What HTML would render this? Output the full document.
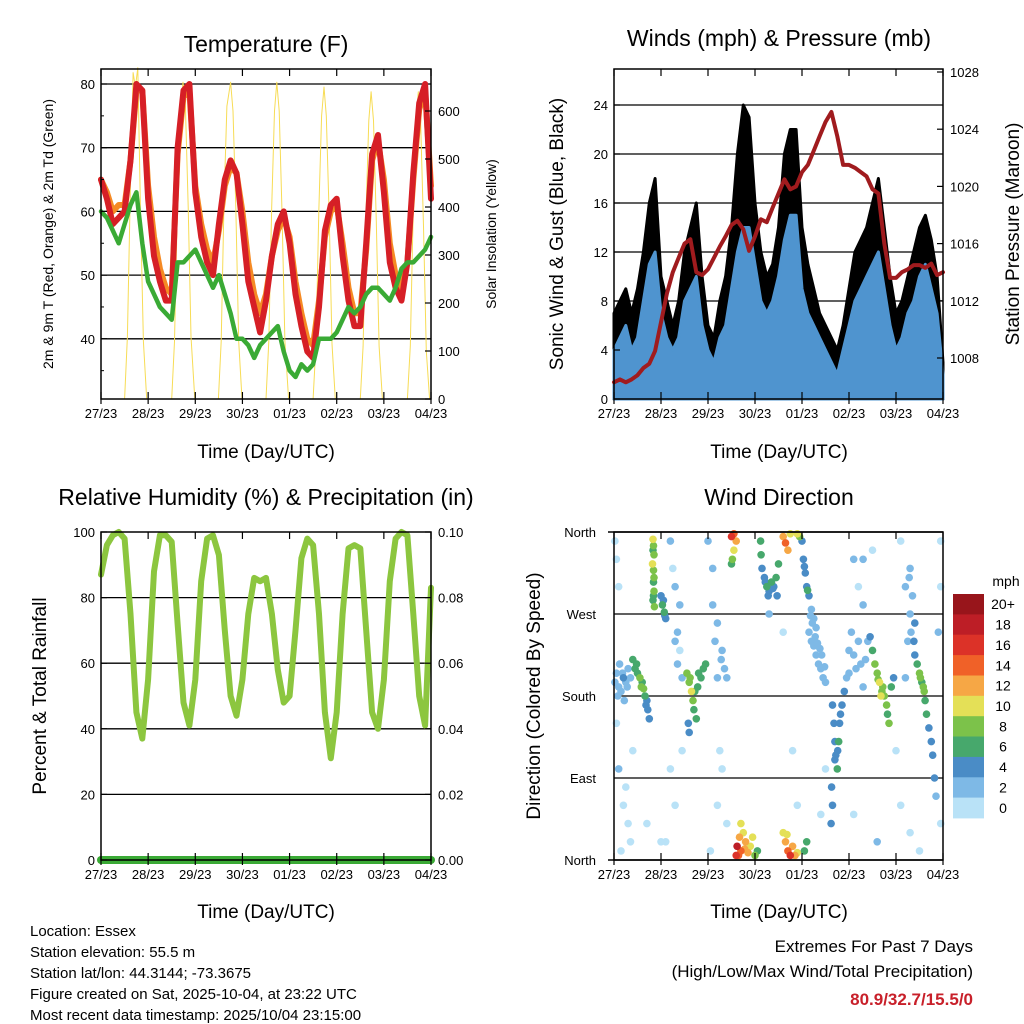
<!DOCTYPE html>
<html><head><meta charset="utf-8">
<style>
html,body{margin:0;padding:0;background:#fff;}
svg{display:block;font-family:"Liberation Sans",Arial,sans-serif;}
</style></head>
<body>
<svg id="chart" width="1024" height="1024" viewBox="0 0 1024 1024">
<rect x="0" y="0" width="1024" height="1024" fill="#fff"/>
<g id="layer"></g>
<text x="266" y="52" font-size="23" text-anchor="middle">Temperature (F)</text>
<text x="779" y="46" font-size="23" text-anchor="middle">Winds (mph) &amp; Pressure (mb)</text>
<text x="266" y="505" font-size="23" text-anchor="middle">Relative Humidity (%) &amp; Precipitation (in)</text>
<text x="779" y="505" font-size="23" text-anchor="middle">Wind Direction</text>
<text x="266" y="458" font-size="19" text-anchor="middle">Time (Day/UTC)</text>
<text x="779" y="458" font-size="19" text-anchor="middle">Time (Day/UTC)</text>
<text x="266" y="918" font-size="19" text-anchor="middle">Time (Day/UTC)</text>
<text x="779" y="918" font-size="19" text-anchor="middle">Time (Day/UTC)</text>
<text transform="translate(53,234) rotate(-90)" font-size="14" text-anchor="middle">2m &amp; 9m T (Red, Orange) &amp; 2m Td (Green)</text>
<text transform="translate(496,234) rotate(-90)" font-size="14" text-anchor="middle">Solar Insolation (Yellow)</text>
<text transform="translate(563,234) rotate(-90)" font-size="19" text-anchor="middle">Sonic Wind &amp; Gust (Blue, Black)</text>
<text transform="translate(1019,234) rotate(-90)" font-size="19" text-anchor="middle">Station Pressure (Maroon)</text>
<text transform="translate(46,696) rotate(-90)" font-size="19" text-anchor="middle">Percent &amp; Total Rainfall</text>
<text transform="translate(540,696) rotate(-90)" font-size="19" text-anchor="middle">Direction (Colored By Speed)</text>
<g font-size="15">
<text x="30" y="936">Location: Essex</text>
<text x="30" y="957">Station elevation: 55.5 m</text>
<text x="30" y="978">Station lat/lon: 44.3144; -73.3675</text>
<text x="30" y="999">Figure created on Sat, 2025-10-04, at 23:22 UTC</text>
<text x="30" y="1020">Most recent data timestamp: 2025/10/04 23:15:00</text>
</g>
<g font-size="17" text-anchor="end">
<text x="973" y="952">Extremes For Past 7 Days</text>
<text x="973" y="977">(High/Low/Max Wind/Total Precipitation)</text>
<text x="973" y="1005" fill="#c8202a" font-weight="bold">80.9/32.7/15.5/0</text>
</g>
</svg>
<script>
// ---- data (3-hour steps from 27/23 UTC, 57 values) ----
const dayLabels = ['27/23','28/23','29/23','30/23','01/23','02/23','03/23','04/23'];
const temp2m = [65,62,58,59,60,68,80,79, 62,53,49,46,46,70,79,80, 63,56,52,50,58,65,68,66, 58,49,45,41,46,53,58,60, 55,47,42,38,37,45,57,61, 62,53,46,42,42,55,69,72, 63,52,48,46,52,66,77,80, 62];
const temp9m = [65,63,60,61,61,68,79,79, 64,56,51,48,47,69,78,79, 64,58,54,52,57,64,67,66, 60,52,47,44,47,53,57,59, 56,49,44,40,39,46,56,60, 61,55,48,44,44,54,68,71, 65,55,50,48,52,65,76,79, 64];
const dewpoint = [60,59,57,55,58,61,63,55, 49,47,45,44,43,52,52,53, 54,52,50,48,50,47,44,40, 40,39,37,39,40,41,42,38, 35,34,36,35,36,40,40,40, 41,43,45,44,45,47,48,48, 47,46,48,51,52,52,53,54, 56];
const solarT = [0.5,0.56,0.62,0.68,0.73,0.78,0.84,0.9,0.97, 1.5,1.56,1.62,1.68,1.74,1.79,1.85,1.91,1.99, 2.49,2.55,2.61,2.67,2.75,2.8,2.86,2.92,2.99, 3.5,3.56,3.62,3.68,3.73,3.78,3.84,3.9,3.98, 4.5,4.56,4.62,4.68,4.73,4.78,4.84,4.9,4.97, 5.5,5.56,5.62,5.68,5.73,5.78,5.84,5.9,5.97, 6.5,6.56,6.62,6.68,6.73,6.78,6.84,6.9,6.97];
const solarV = [0,130,420,680,650,690,380,120,0, 0,120,400,600,660,610,400,130,0, 0,120,410,610,660,600,400,120,0, 0,120,400,600,660,600,390,120,0, 0,115,390,590,650,590,380,115,0, 0,110,380,580,640,580,370,110,0, 0,110,380,580,640,580,360,100,0];
const pressure = [1006.3,1006.5,1006.3,1006.5,1006.8,1007.3,1007.6,1008.5, 1010.5,1012.5,1014,1015,1016,1016.3,1014,1013.8, 1014.2,1015,1015.8,1016.5,1017.3,1017.6,1017,1015.5, 1016.5,1017.7,1017.5,1018.5,1019.5,1020.5,1019.8,1020, 1021,1021.5,1022.5,1023.5,1024.5,1025.2,1023.5,1021.5, 1021.5,1021.3,1021,1020.7,1019.8,1019.5,1016,1013.6, 1013.6,1014,1014.2,1014.5,1014.5,1014.3,1014.6,1013.8, 1014];
const windGust = [7,8,9,7,9,12,16,18, 10,8,6,8,12,14,16,10, 6,5,8,10,14,20,24,23, 16,12,10,11,14,20,22,22, 14,11,9,7,6,5,4,6, 9,12,13,14,16,18,14,10, 7,8,10,12,14,15,13,10, 3];
const windSpeed = [4,5,6,4,5,8,11,12, 7,5,4,5,8,9,10,6, 4,3,5,6,9,12,14,14, 11,8,7,8,10,13,15,15, 9,7,6,5,4,3,2,4, 6,8,9,10,11,12,9,6, 4,5,7,8,10,11,9,7, 2];
const relHum = [87,96,99,100,98,75,45,37, 55,88,99,99,97,72,48,41, 55,85,98,99,93,70,50,44, 55,75,86,85,86,75,58,48, 50,70,92,98,96,75,45,31, 45,75,95,96,95,70,45,40, 55,85,98,100,99,75,50,41, 83];
const precip = [0,0,0,0,0,0,0,0, 0,0,0,0,0,0,0,0, 0,0,0,0,0,0,0,0, 0,0,0,0,0,0,0,0, 0,0,0,0,0,0,0,0, 0,0,0,0,0,0,0,0, 0,0,0,0,0,0,0,0, 0];
const tempTicks = [40,50,60,70,80];
const solarTicks = [0,100,200,300,400,500,600];
const windTicks = [0,4,8,12,16,20,24];
const pressTicks = [1008,1012,1016,1020,1024,1028];
const rhTicks = [0,20,40,60,80,100];
const rainTicks = ['0.00','0.02','0.04','0.06','0.08','0.10'];
const dirTicks = [0,90,180,270,360];
const dirTickLabels = ['North','East','South','West','North'];
const speedBinLabels = ['20+','18','16','14','12','10','8','6','4','2','0'];
const speedBinColors = ['#98151b','#bd1e26','#dc3228','#f06128','#f6a745','#e4e057','#7cc24a','#47a86c','#4a8cc6','#7eb9e6','#b9e2f7'];
// wind direction observations: [day, degrees, mph]
const dirObs = [
[0.83,352,10],[0.84,345,9],[0.85,335,8],[0.82,325,10],[0.84,318,8],[0.84,305,7],[0.85,295,8],[0.83,285,6],[0.86,278,8],[0.83,340,7],[0.85,310,9],[0.84,290,7],
[1.0,290,5],[1.03,280,6],[1.07,272,6],[1.1,265,5],[1.05,285,4],[1.08,268,5],
[0.4,220,6],[0.45,210,6],[0.5,205,7],[0.55,200,8],[0.6,195,7],[0.63,188,8],[0.66,180,6],[0.7,175,5],[0.72,165,4],[0.75,155,4],[0.48,215,7],[0.58,190,8],[0.68,170,5],
[0.2,200,4],[0.25,195,3],[0.1,190,3],[0.05,205,2],[0.15,185,2],[0.3,210,3],[0.12,215,2],[0.02,195,3],[0.08,180,2],[0.18,205,3],[0.28,190,2],[0.22,175,2],[0.35,200,3],
[1.55,205,8],[1.6,195,9],[1.65,185,10],[1.68,175,8],[1.7,165,6],[1.75,155,7],[1.78,190,6],[1.85,200,6],[1.9,210,6],[1.95,215,6],[1.58,150,5],[1.6,140,4],[1.62,200,8],[1.72,185,7],[1.8,205,6],
[2.5,355,16],[2.55,358,14],[2.6,350,12],[2.55,340,10],[2.52,330,8],[2.5,325,6],
[2.6,5,16],[2.62,15,18],[2.67,25,12],[2.7,10,14],[2.75,30,10],[2.8,20,12],[2.85,8,12],[2.9,15,10],[3.0,5,8],[3.05,10,6],[2.7,40,10],[2.65,5,14],[2.78,12,13],[2.95,25,11],
[3.12,350,6],[3.13,335,6],[3.15,320,5],[3.2,310,5],[3.25,300,6],[3.3,295,5],[3.35,305,6],[3.4,300,4],[3.45,310,6],[3.5,325,6],[3.47,290,4],[3.22,305,4],[3.28,290,4],[3.38,298,4],
[3.6,355,12],[3.65,348,14],[3.7,340,12],[3.75,358,10],[3.9,358,10],[3.95,355,8],
[3.6,30,10],[3.65,20,12],[3.7,10,14],[3.75,5,16],[3.8,15,12],[3.9,8,10],[4.05,10,6],[4.1,20,6],[3.68,28,10],[3.85,5,12],
[4.0,350,4],[4.03,330,4],[4.07,315,5],[4.1,300,4],[4.15,290,4],[4.2,275,3],[4.25,265,3],[4.05,322,4],[4.12,296,6],
[4.15,250,2],[4.2,240,3],[4.25,235,3],[4.3,225,2],[4.35,215,2],[4.4,210,3],[4.45,200,2],[4.5,195,3],[4.22,260,2],[4.38,232,3],[4.28,245,3],[4.33,238,3],[4.42,225,3],[4.48,212,2],[4.3,255,3],[4.18,268,3],
[4.65,170,4],[4.68,150,4],[4.7,130,5],[4.72,115,4],[4.75,100,6],[4.78,130,6],[4.8,150,5],[4.85,170,4],[4.9,185,4],[4.63,80,4],[4.65,60,4],[4.62,40,4],[4.7,110,4],[4.76,120,5],[4.82,160,4],
[4.95,200,2],[5.0,230,3],[5.05,250,2],[5.15,210,3],[5.2,240,2],[5.3,190,2],[5.35,220,3],[5.1,225,2],[5.25,215,3],[5.4,240,3],[5.0,205,2],
[5.45,245,4],[5.5,230,6],[5.55,215,8],[5.6,205,8],[5.65,195,10],[5.7,185,9],[5.75,180,8],[5.8,170,8],[5.82,160,7],[5.85,150,8],[5.9,190,6],[5.95,200,4],[5.62,198,9],[5.72,190,8],[5.68,180,10],
[6.4,225,4],[6.45,215,6],[6.5,205,8],[6.55,195,7],[6.6,185,8],[6.62,175,6],[6.65,160,6],[6.7,145,4],[6.75,130,4],[6.78,115,4],[6.82,90,4],[6.85,70,3],[6.52,200,8],[6.58,190,8],
[0.02,350,1],[0.05,330,1],[0.1,300,1],[0.05,150,1],[0.1,100,2],[0.2,60,1],[0.3,40,1],[0.35,20,1],[0.15,10,1],[0.25,80,1],[0.4,120,1],
[1.2,350,2],[1.25,320,1],[1.3,300,3],[1.35,250,2],[1.4,230,1],[1.45,200,2],[1.2,100,1],[1.3,60,1],[1.1,20,1],[1.45,120,1],
[2.0,350,2],[2.1,320,2],[2.2,260,2],[2.15,240,3],[2.3,230,3],[2.4,200,2],[2.25,120,1],[2.2,60,1],[2.4,40,1],[2.3,100,1],
[4.5,100,1],[4.4,50,1],[5.1,330,2],[5.2,300,1],[5.3,330,2],[5.3,280,3],[5.5,340,1],[6.1,350,1],[6.2,300,2],[6.3,270,3],[6.25,240,2],
[6.0,120,1],[6.1,60,1],[6.3,30,1],[6.95,350,1],[6.95,300,1],[6.95,40,1],[6.9,250,2],[5.1,50,1],[6.2,200,3],[0.7,40,1],[1.0,20,1],
[2.05,10,1],[5.6,20,2],[6.5,10,1],[3.3,270,2],[3.6,250,1],[3.8,120,1],[3.9,60,1],[6.3,320,2],[6.35,290,3],[6.4,260,4],[1.4,280,2],[2.1,280,2],
[6.28,310,2],[6.32,250,3],[6.38,240,4],[2.28,220,3],[2.35,210,3],[2.2,200,2],[1.3,240,2],[1.35,215,2]
];

// ---- rendering ----
const NS='http://www.w3.org/2000/svg';
const layer=document.getElementById('layer');
function mk(tag,attrs,parent){const e=document.createElementNS(NS,tag);for(const k in attrs)e.setAttribute(k,attrs[k]);(parent||layer).appendChild(e);return e;}
const tStep=0.125;
function timeOf(i){return i*tStep;}
const P1={x0:101,x1:431,y0:69,y1:399}, P2={x0:614,x1:943,y0:69,y1:399}, P3={x0:101,x1:431,y0:532,y1:860}, P4={x0:614,x1:943,y0:532,y1:860};
function xs(P,t){return P.x0+t*(P.x1-P.x0)/7;}
const yT=v=>84+(80-v)*6.37;
const yS=v=>399-v*0.48;
const yW=v=>399-v*12.25;
const yP=p=>358-(p-1008)*14.3;
const yRH=v=>860-v*3.28;
const yRain=v=>860-v*3280;
const yD=d=>860-d*328/360;

function line(P,vals,yf,color,w,name){
  const pts=vals.map((v,i)=>xs(P,timeOf(i)).toFixed(1)+','+yf(v).toFixed(1)).join(' ');
  const e=mk('polyline',{points:pts,fill:'none',stroke:color,'stroke-width':w,'stroke-linejoin':'round','stroke-linecap':'round'});
  
  
  return e;
}
function grid(P,ys,name){
  ys.forEach(y=>{const g=mk('line',{x1:P.x0,x2:P.x1,y1:y,y2:y,stroke:'#000','stroke-width':1.3});
    
    });
}
function frame(P,name){
  const r=mk('rect',{x:P.x0,y:P.y0,width:P.x1-P.x0,height:P.y1-P.y0,fill:'none',stroke:'#000','stroke-width':1.5});
  
  
  for(let d=0;d<=7;d++){const x=xs(P,d);
    mk('line',{x1:x,x2:x,y1:P.y1,y2:P.y1-7,stroke:'#000','stroke-width':1.2});
    mk('line',{x1:x,x2:x,y1:P.y0,y2:P.y0+7,stroke:'#000','stroke-width':1.2});
    mk('line',{x1:x,x2:x,y1:P.y1,y2:P.y1+5,stroke:'#000','stroke-width':1.2});
    const t=mk('text',{x:x,y:P.y1+19,'font-size':13,'text-anchor':'middle'});t.textContent=dayLabels[d];
    
    
  }
}
function ylabels(x,ys,labels,anchor,name,size){
  ys.forEach((y,i)=>{const t=mk('text',{x:x,y:y+5,'font-size':size||13,'text-anchor':anchor});t.textContent=labels[i];
    
    });
}
function yticks(P,ys,side){ys.forEach(y=>{const x=side==='l'?P.x0:P.x1;mk('line',{x1:x,x2:side==='l'?x+6:x-6,y1:y,y2:y,stroke:'#000','stroke-width':1.2});});}

// Panel 1: temperature
(function(){
  const g=tempTicks.map(yT); grid(P1,g,'temperature-gridline');
  const sp=solarT.map((t,i)=>xs(P1,t).toFixed(1)+','+yS(solarV[i]).toFixed(1)).join(' ');
  const s=mk('polyline',{points:sp,fill:'none',stroke:'#f7dc55','stroke-width':1,'stroke-linejoin':'round'});
  
  
  line(P1,temp9m,yT,'#f58a24',6,'temp-9m-line');
  line(P1,temp2m,yT,'#d61f26',6,'temp-2m-line');
  line(P1,dewpoint,yT,'#3aaa35',4.5,'dewpoint-line');
  frame(P1,'temperature-plot-frame');
  yticks(P1,g,'l');yticks(P1,solarTicks.map(yS),'r');
  [35,45,55,65,75].forEach(v=>mk('line',{x1:P1.x0,x2:P1.x0+3,y1:yT(v),y2:yT(v),stroke:'#000'}));
  ylabels(P1.x0-6,g,tempTicks.map(String),'end','temperature-tick-label');
  ylabels(P1.x1+7,solarTicks.map(yS),solarTicks.map(String),'start','solar-tick-label');
})();

// Panel 2: winds and pressure
(function(){
  const g=windTicks.slice(1).map(yW); grid(P2,g,'wind-gridline');
  function area(vals,color,name){
    let pts=vals.map((v,i)=>xs(P2,timeOf(i)).toFixed(1)+','+yW(v).toFixed(1));
    pts.push(xs(P2,7)+','+yW(0));pts.push(xs(P2,0)+','+yW(0));
    const e=mk('polygon',{points:pts.join(' '),fill:color,stroke:color,'stroke-width':3,'stroke-linejoin':'round'});
    
    
  }
  area(windGust,'#000','wind-gust-series');
  area(windSpeed,'#4f94cf','sonic-wind-series');
  line(P2,pressure,yP,'#a01b1e',4,'pressure-line');
  frame(P2,'winds-plot-frame');
  yticks(P2,windTicks.map(yW),'l');yticks(P2,pressTicks.map(yP),'r');
  ylabels(P2.x0-6,windTicks.map(yW),windTicks.map(String),'end','wind-tick-label');
  ylabels(P2.x1+7,pressTicks.map(yP),pressTicks.map(String),'start','pressure-tick-label');
})();

// Panel 3: humidity and precipitation
(function(){
  const g=rhTicks.slice(1,5).map(yRH); grid(P3,g,'humidity-gridline');
  line(P3,relHum,yRH,'#8cc63f',6,'relative-humidity-line');
  line(P3,precip,yRain,'#3aaa35',8,'precipitation-line');
  frame(P3,'humidity-plot-frame');
  yticks(P3,rhTicks.map(yRH),'l');yticks(P3,rhTicks.map(yRH),'r');
  ylabels(P3.x0-6,rhTicks.map(yRH),rhTicks.map(String),'end','humidity-tick-label');
  ylabels(P3.x1+7,rhTicks.map(yRH),rainTicks,'start','rainfall-tick-label');
})();

// Panel 4: wind direction
(function(){
  const g=[90,180,270].map(yD); grid(P4,g,'direction-gridline');
  function binColor(s){let idx=Math.min(10,Math.floor(s/2));return speedBinColors[10-idx];}
  const sorted=dirObs.slice().sort((a,b)=>a[2]-b[2]);
  sorted.forEach(o=>{const c=mk('circle',{cx:xs(P4,o[0]).toFixed(1),cy:yD(o[1]).toFixed(1),r:3.8,fill:binColor(o[2])});
    
    });
  frame(P4,'direction-plot-frame');
  mk('line',{x1:P4.x0-6,x2:P4.x1,y1:P4.y0,y2:P4.y0,stroke:'#000','stroke-width':1.5});
  mk('line',{x1:P4.x0-6,x2:P4.x1,y1:P4.y1,y2:P4.y1,stroke:'#000','stroke-width':1.5});
  ylabels(P4.x0-18,dirTicks.map(yD),dirTickLabels,'end','direction-tick-label');
  // colorbar
  const cbTop=594, cbH=224/11;
  speedBinColors.forEach((c,i)=>{const r=mk('rect',{x:953,y:(cbTop+i*cbH).toFixed(1),width:31,height:(cbH+0.4).toFixed(1),fill:c});
    
    
    const t=mk('text',{x:1003,y:(cbTop+i*cbH+cbH/2+5).toFixed(1),'font-size':14,'text-anchor':'middle'});t.textContent=speedBinLabels[i];
    
    });
  const m=mk('text',{x:1006,y:586,'font-size':14,'text-anchor':'middle'});m.textContent='mph';
  
  
})();
</script>
</body></html>
